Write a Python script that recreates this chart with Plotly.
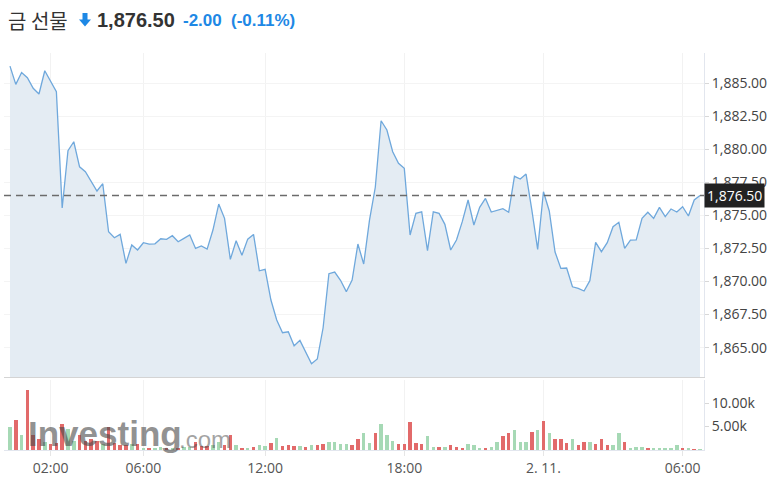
import plotly.graph_objects as go
import pandas as pd

# ---------------- data ----------------
title_name = "금 선물"
last_price = 1876.50
last_price_text = "1,876.50"
change_text = "-2.00"
change_pct_text = "(-0.11%)"

session1 = pd.date_range("2022-02-10 00:15", "2022-02-10 06:45", freq="15min")
session2 = pd.date_range("2022-02-10 07:45", "2022-02-11 06:45", freq="15min")
times = session1.append(session2)

price = [
    1886.28, 1884.90, 1885.80, 1885.40, 1884.60, 1884.17, 1885.93, 1885.17, 1884.34, 1875.55,
    1879.88, 1880.56, 1878.67, 1878.30, 1877.54, 1876.84, 1877.39, 1873.76, 1873.31, 1873.56,
    1871.37, 1872.76, 1872.38, 1872.93, 1872.83, 1872.85, 1873.23, 1873.19, 1873.46, 1873.00,
    1873.26, 1873.51, 1872.50, 1872.68, 1872.45, 1873.89, 1875.85, 1874.77, 1871.67, 1873.08,
    1871.98, 1873.20, 1873.56, 1870.81, 1870.92, 1868.60, 1867.09, 1866.13, 1866.20, 1865.14,
    1865.55, 1864.64, 1863.78, 1864.14, 1866.50, 1870.59, 1870.71, 1870.09, 1869.23, 1870.11,
    1872.83, 1871.32, 1874.64, 1877.12, 1882.15, 1881.45, 1879.81, 1878.93, 1878.55, 1873.51,
    1875.15, 1875.27, 1872.33, 1875.27, 1875.15, 1874.32, 1872.38, 1873.13, 1874.52, 1876.16,
    1874.27, 1875.60, 1876.28, 1875.25, 1875.35, 1875.50, 1875.23, 1877.95, 1877.74, 1878.12,
    1875.40, 1872.43, 1876.78, 1875.33, 1872.23, 1870.99, 1871.02, 1869.60, 1869.48, 1869.28,
    1870.06, 1872.96, 1872.25, 1872.93, 1874.14, 1874.47, 1872.50, 1873.13, 1873.15, 1874.77,
    1875.23, 1874.77, 1875.60, 1874.90, 1875.48, 1875.25, 1875.65, 1874.95, 1876.16, 1876.50,
]

volume = [
    5000, 6400, 3200, 12800, 3100, 2400, 1700, 1300, 1500, 5600,
    4400, 2000, 3100, 2000, 2300, 2000, 1300, 4800, 1500, 1000,
    1100, 1300, 1300, 500, 300, 400, 600, 400, 500, 500,
    600, 700, 1700, 800, 800, 1000, 1600, 1100, 3300, 1000,
    500, 500, 600, 1100, 800, 1400, 2500, 800, 1100, 800,
    800, 600, 1100, 1100, 1300, 1800, 1600, 1300, 1300, 1000,
    2400, 3700, 1500, 3700, 5600, 3200, 2000, 1300, 1300, 5900,
    1500, 1300, 2900, 700, 700, 700, 1000, 700, 500, 1300,
    1000, 500, 500, 700, 1800, 2900, 3600, 4300, 1800, 1800,
    3900, 4300, 6100, 3600, 2300, 2300, 1500, 2300, 1100, 1800,
    1800, 1300, 2300, 1100, 1100, 3600, 1800, 400, 700, 700,
    400, 500, 500, 500, 500, 1000, 300, 300, 200, 200,
]

# bar direction: u = up bar, d = down bar
direction = (
    "udud" "ddud" "dd"
    "uudd" "ddud" "dd"
    "dudu" "duud" "ud"
    "uudd" "duud" "du"
    "dudu"
    "udud" "ddud" "ud"
    "duuu" "uddu" "ud"
    "uuud" "dddd" "uu"
    "dudd" "duuu" "du"
    "uddu" "uudu" "dudd"
    "dudd" "uddd" "uu"
    "duuu" "duuu" "uu"
    "duduu" "dud" "uu"
)

price_ticks = [1865.0, 1867.5, 1870.0, 1872.5, 1875.0, 1877.5, 1880.0, 1882.5, 1885.0]
volume_ticks = [5000, 10000]
volume_tick_text = ["5.00k", "10.00k"]
time_ticks = ["2022-02-10 02:00", "2022-02-10 06:00", "2022-02-10 12:00",
              "2022-02-10 18:00", "2022-02-11 00:00", "2022-02-11 06:00"]
time_tick_text = ["02:00", "06:00", "12:00", "18:00", "2. 11.", "06:00"]

# ---------------- styling / layout ----------------
W, H = 778, 483
ML, MR, MT, MB = 4, 74, 53, 33
PW, PH = W - ML - MR, H - MT - MB


def px_x(px):
    return (px - ML) / PW


def px_y(py):
    return (H - MB - py) / PH


UP = "#a6d9b5"
DOWN = "#e26a6a"
bar_colors = [UP if c == "u" else DOWN for c in direction[:len(volume)]]
while len(bar_colors) < len(volume):
    bar_colors.append(UP)

bar_ms = 15 * 60 * 1000
x_start = times[0] - pd.Timedelta(minutes=15.5)
x_end = times[-1] + pd.Timedelta(minutes=10.3)
breaks = [dict(values=["2022-02-10 07:00"], dvalue=45 * 60 * 1000)]

fig = go.Figure()
fig.add_trace(go.Scatter(
    x=times, y=price, mode="lines",
    line=dict(color="#6fa8dc", width=1.3),
    fill="tozeroy", fillcolor="#e4ecf3",
    xaxis="x", yaxis="y", hoverinfo="skip", showlegend=False,
))
fig.add_trace(go.Bar(
    x=times, y=volume, marker=dict(color=bar_colors, line=dict(width=0)),
    width=bar_ms * 0.6, xaxis="x2", yaxis="y2", hoverinfo="skip", showlegend=False,
))

grid_c = "#f2f2f2"
axis_c = "#e2e6ee"
font_fam = "Open Sans, Noto Sans, sans-serif"

fig.update_layout(
    width=W, height=H,
    margin=dict(l=ML, r=MR, t=MT, b=MB),
    paper_bgcolor="white", plot_bgcolor="white",
    font=dict(family=font_fam, size=14, color="#333333"),
    showlegend=False,
    bargap=0,
    xaxis=dict(
        domain=[0, 1], anchor="y", type="date", range=[x_start, x_end],
        rangebreaks=breaks, tickvals=time_ticks, showticklabels=False,
        showgrid=True, gridcolor=grid_c, gridwidth=1,
        showline=True, linecolor="#d4d4d4", linewidth=1, zeroline=False,
    ),
    xaxis2=dict(
        domain=[0, 1], anchor="y2", type="date", range=[x_start, x_end], matches="x",
        rangebreaks=breaks, tickvals=time_ticks, ticktext=time_tick_text,
        showgrid=True, gridcolor=grid_c, gridwidth=1,
        showline=True, linecolor=axis_c, linewidth=1, zeroline=False,
        ticks="outside", ticklen=5, tickcolor="#e6e6e6",
        tickfont=dict(size=14, color="#555555"),
    ),
    yaxis=dict(
        domain=[px_y(377), 1], anchor="x", side="right",
        range=[1862.78, 1887.27], tickvals=price_ticks, tickformat=",.2f",
        showgrid=True, gridcolor="#f4f4f4", gridwidth=1, zeroline=False,
        showline=True, linecolor=axis_c, linewidth=1,
        ticks="outside", ticklen=4, tickcolor="#d8d8d8",
        tickfont=dict(size=14, color="#444444"),
    ),
    yaxis2=dict(
        domain=[0, px_y(380)], anchor="x2", side="right",
        range=[0, 14900], tickvals=volume_ticks, ticktext=volume_tick_text,
        showgrid=False, zeroline=False,
        showline=True, linecolor=axis_c, linewidth=1,
        ticks="outside", ticklen=4, tickcolor="#d8d8d8",
        tickfont=dict(size=14, color="#444444"),
    ),
)

# last-price dashed line
fig.add_shape(type="line", xref="paper", x0=0, x1=1, yref="y", y0=last_price, y1=last_price,
              line=dict(color="#6b6b6b", width=1.5, dash="7px,5px"), layer="above")

# last-price label box
fig.add_annotation(xref="paper", x=1, yref="y", y=last_price, xanchor="left", yanchor="middle",
                   text=last_price_text, showarrow=False, bgcolor="#222222", borderpad=2,
                   font=dict(size=14, color="white", family=font_fam), xshift=0)

# title pieces
title_y = px_y(20)
fig.add_annotation(xref="paper", yref="paper", x=px_x(6), y=title_y, xanchor="left", yanchor="middle",
                   text=title_name, showarrow=False,
                   font=dict(size=20, color="#333333", family="Noto Sans CJK KR, sans-serif"))

# down arrow icon (filled)
arrow_pts = [(82.5, 13), (87.5, 13), (87.5, 19.5), (91, 19.5), (85, 26.5), (79, 19.5), (82.5, 19.5)]
arrow_path = "M " + " L ".join(f"{px_x(a):.5f},{px_y(b):.5f}" for a, b in arrow_pts) + " Z"
fig.add_shape(type="path", xref="paper", yref="paper", path=arrow_path,
              fillcolor="#1e88e5", line=dict(width=0))

fig.add_annotation(xref="paper", yref="paper", x=px_x(95), y=title_y, xanchor="left", yanchor="middle",
                   text="<b>" + last_price_text + "</b>", showarrow=False,
                   font=dict(size=20, color="#333333", family="Liberation Sans, Arial, sans-serif"))
fig.add_annotation(xref="paper", yref="paper", x=px_x(181), y=title_y, xanchor="left", yanchor="middle",
                   text="<b>" + change_text + "</b>", showarrow=False,
                   font=dict(size=17, color="#1e88e5", family="Liberation Sans, Arial, sans-serif"))
fig.add_annotation(xref="paper", yref="paper", x=px_x(229), y=title_y, xanchor="left", yanchor="middle",
                   text="<b>" + change_pct_text + "</b>", showarrow=False,
                   font=dict(size=17, color="#1e88e5", family="Liberation Sans, Arial, sans-serif"))

# watermark
fig.add_annotation(xref="paper", yref="paper", x=px_x(26), y=px_y(433), xanchor="left", yanchor="middle",
                   text="<b>Investing</b>", showarrow=False, opacity=0.6,
                   font=dict(size=35, color="#4a4a4a", family="Liberation Sans, Arial, sans-serif"))
fig.add_annotation(xref="paper", yref="paper", x=px_x(177), y=px_y(439), xanchor="left", yanchor="middle",
                   text=".com", showarrow=False, opacity=0.5,
                   font=dict(size=24, color="#4a4a4a", family="Liberation Sans, Arial, sans-serif"))

fig.write_html("out.html", config={"displayModeBar": False},
               post_script="document.body.style.margin='0px';")
